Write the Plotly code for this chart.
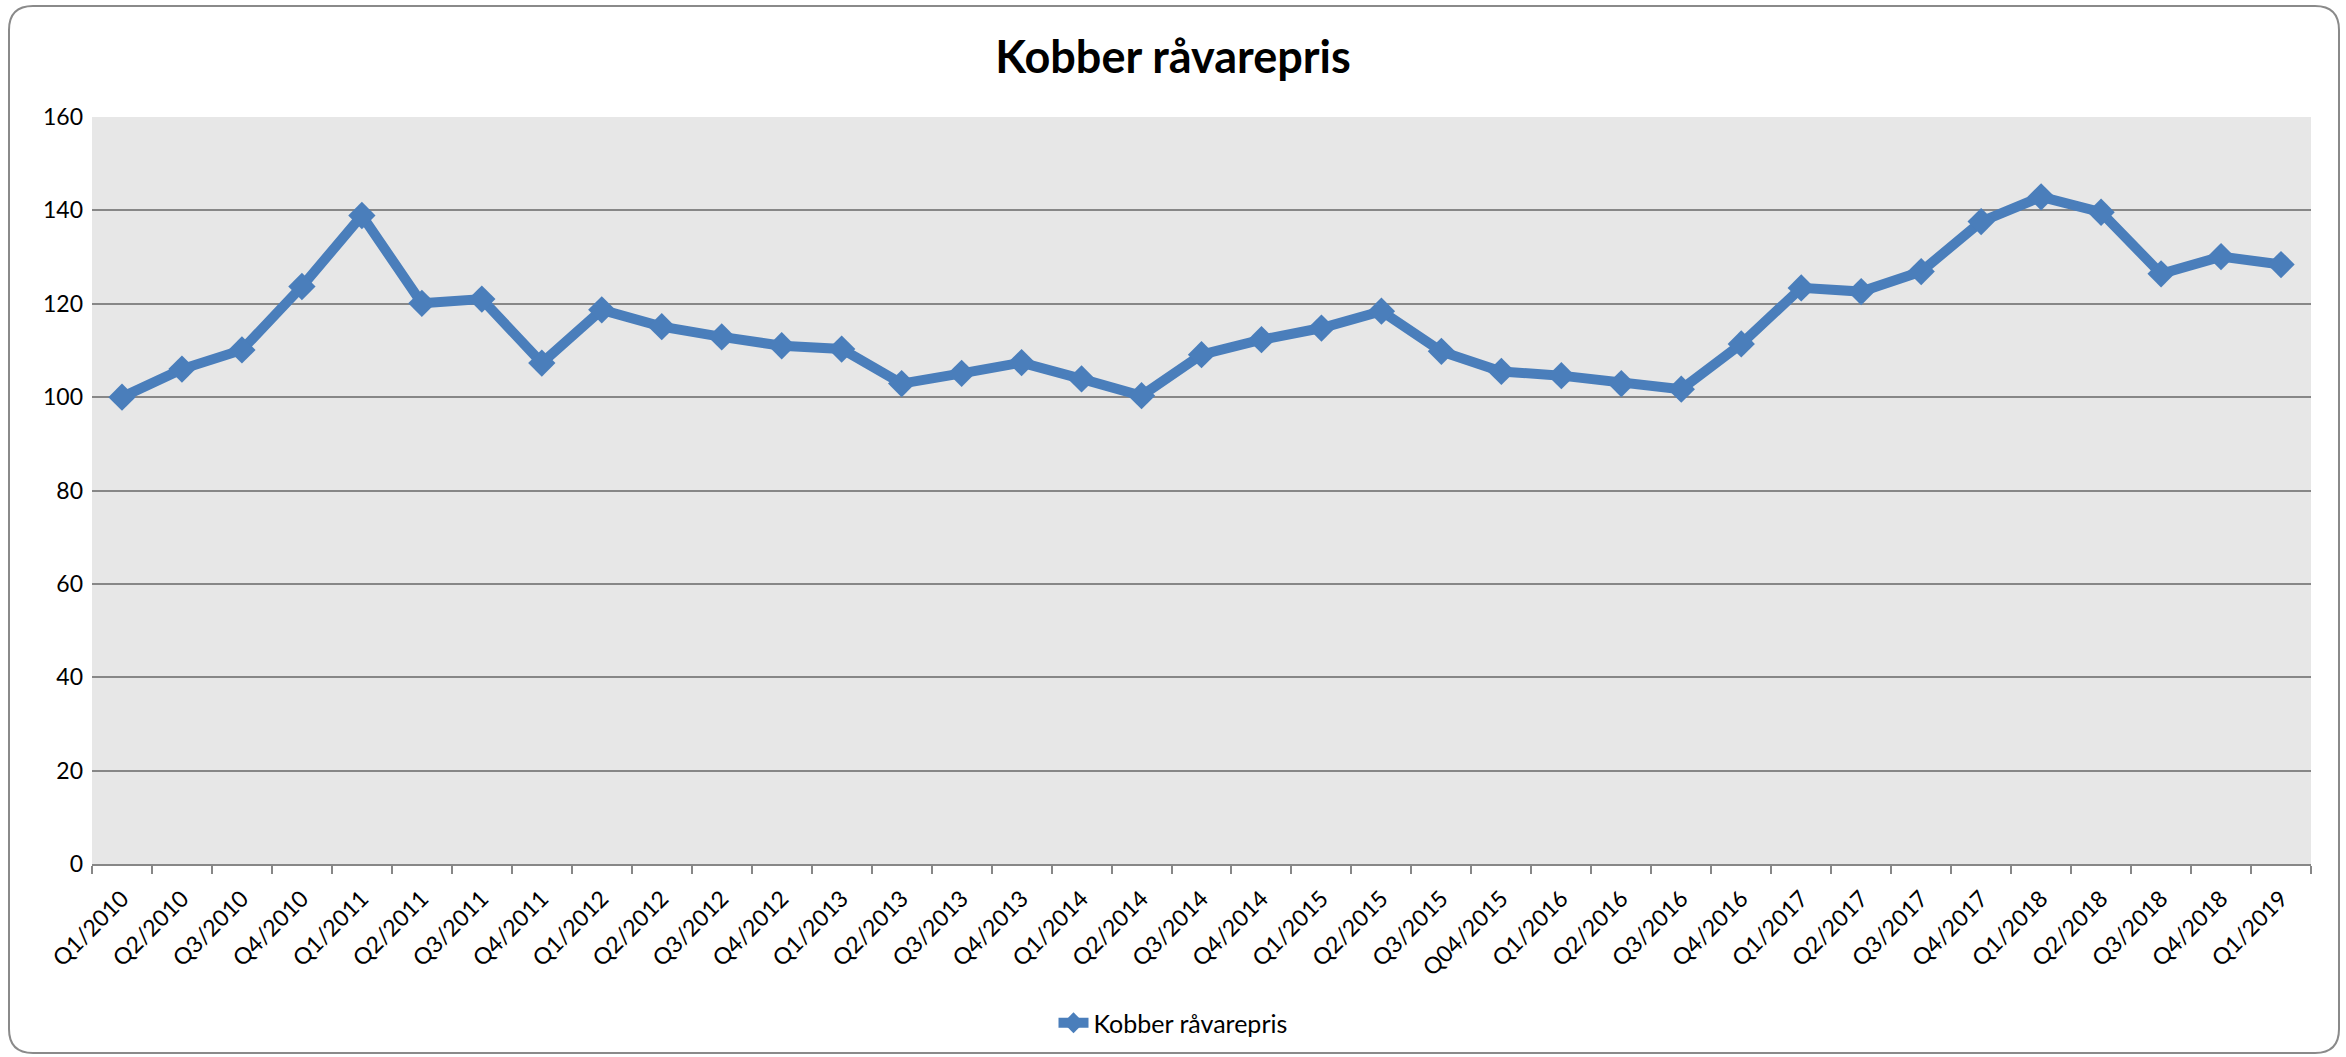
import plotly.graph_objects as go

quarters = [
    "Q1/2010", "Q2/2010", "Q3/2010", "Q4/2010",
    "Q1/2011", "Q2/2011", "Q3/2011", "Q4/2011",
    "Q1/2012", "Q2/2012", "Q3/2012", "Q4/2012",
    "Q1/2013", "Q2/2013", "Q3/2013", "Q4/2013",
    "Q1/2014", "Q2/2014", "Q3/2014", "Q4/2014",
    "Q1/2015", "Q2/2015", "Q3/2015", "Q04/2015",
    "Q1/2016", "Q2/2016", "Q3/2016", "Q4/2016",
    "Q1/2017", "Q2/2017", "Q3/2017", "Q4/2017",
    "Q1/2018", "Q2/2018", "Q3/2018", "Q4/2018",
    "Q1/2019",
]
kobber = [
    100.0, 106.0, 110.1, 123.7,
    138.9, 120.1, 121.0, 107.3,
    118.7, 115.1, 112.9, 111.0,
    110.3, 102.9, 105.1, 107.4,
    103.9, 100.3, 109.1, 112.3,
    114.8, 118.4, 109.8, 105.5,
    104.6, 102.9, 101.7, 111.4,
    123.4, 122.6, 126.9, 137.6,
    142.9, 139.6, 126.4, 130.1,
    128.4,
]
y_ticks = [0, 20, 40, 60, 80, 100, 120, 140, 160]

W, H = 2346, 1057
L, R, T, B = 92, 2311, 117, 864
FONT = "Lato"
BLUE = "#4A7EBB"
GRID = "#878787"

fig = go.Figure()
fig.add_trace(go.Scatter(
    x=quarters, y=kobber, mode="lines+markers", name="Kobber råvarepris",
    line=dict(color=BLUE, width=10),
    marker=dict(symbol="diamond", size=21, color=BLUE),
))

# rounded outer border (pixel -> paper)
def px(xp):
    return (xp - L) / (R - L)
def py(yp):
    return (B - yp) / (B - T)
x0, x1, y0, y1, r = 9, 2339, 6, 1053, 24
path = (
    f"M {px(x0 + r)} {py(y0)} L {px(x1 - r)} {py(y0)} "
    f"Q {px(x1)} {py(y0)} {px(x1)} {py(y0 + r)} "
    f"L {px(x1)} {py(y1 - r)} Q {px(x1)} {py(y1)} {px(x1 - r)} {py(y1)} "
    f"L {px(x0 + r)} {py(y1)} Q {px(x0)} {py(y1)} {px(x0)} {py(y1 - r)} "
    f"L {px(x0)} {py(y0 + r)} Q {px(x0)} {py(y0)} {px(x0 + r)} {py(y0)} Z"
)
fig.add_shape(type="path", path=path, xref="paper", yref="paper",
              line=dict(color="#8A8A8A", width=2), fillcolor="rgba(0,0,0,0)")

fig.update_layout(
    width=W, height=H,
    margin=dict(l=L, r=W - R, t=T, b=H - B),
    paper_bgcolor="white",
    plot_bgcolor="#E7E7E7",
    font=dict(family=FONT, size=22, color="black"),
    title=dict(text="Kobber råvarepris", x=0.5, xanchor="center", xref="container",
               y=1 - 57 / H, yanchor="middle", yref="container",
               font=dict(family=FONT, size=45, weight="bold", color="black")),
    showlegend=True,
    legend=dict(orientation="h", xref="container", yref="container",
                x=0.5, xanchor="center", y=1 - 1023 / H, yanchor="middle",
                font=dict(family=FONT, size=25, color="black"),
                bgcolor="rgba(0,0,0,0)"),
    xaxis=dict(
        type="category", range=[-0.5, len(quarters) - 0.5],
        tickangle=-45, tickson="boundaries", ticks="outside", ticklen=8,
        tickcolor=GRID, tickwidth=2,
        showline=True, linecolor=GRID, linewidth=2,
        showgrid=False, tickfont=dict(family=FONT, size=23),
        ticklabelstandoff=10,
    ),
    yaxis=dict(
        range=[0, 160], tickvals=y_ticks, showgrid=True, gridcolor=GRID,
        gridwidth=2, zeroline=False, showline=False, ticks="",
        ticklabelstandoff=8, tickfont=dict(family=FONT, size=23),
    ),
)

fig.write_html(
    "out.html",
    config={"displayModeBar": False},
    post_script="document.body.style.margin='0';document.body.style.overflow='hidden';",
)
